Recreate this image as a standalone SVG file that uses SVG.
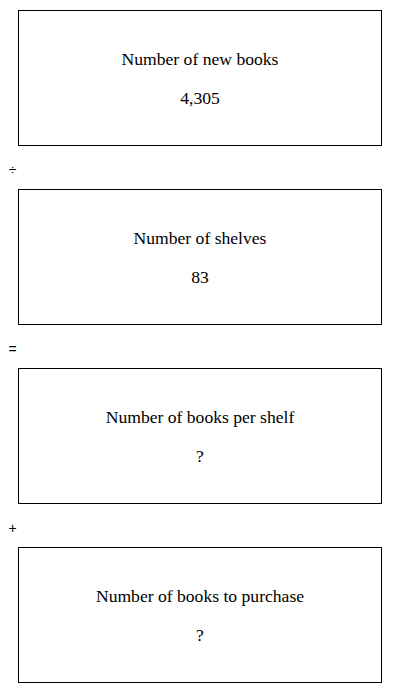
<svg xmlns="http://www.w3.org/2000/svg" width="400" height="693" viewBox="0 0 400 693">
<style>
.box{fill:#fff;stroke:#000;stroke-width:1}
.t{font-family:"Liberation Serif","Times New Roman",serif;font-size:17.6px;fill:#000;text-anchor:middle}
.op{font-family:"Liberation Sans","DejaVu Sans",sans-serif;font-size:14px;fill:#000;text-anchor:middle}
</style>
<rect width="400" height="693" fill="#fff"/>
<g id="node1">
<rect class="box" x="18.5" y="10.5" width="363" height="135"/>
<text class="t" x="200" y="65">Number of new books</text>
<text class="t" x="200" y="104">4,305</text>
</g>
<g id="node2">
<rect class="box" x="18.5" y="189.5" width="363" height="135"/>
<text class="t" x="200" y="244">Number of shelves</text>
<text class="t" x="200" y="283">83</text>
</g>
<g id="node3">
<rect class="box" x="18.5" y="368.5" width="363" height="135"/>
<text class="t" x="200" y="423">Number of books per shelf</text>
<text class="t" x="200" y="462">?</text>
</g>
<g id="node4">
<rect class="box" x="18.5" y="547.5" width="363" height="135"/>
<text class="t" x="200" y="602">Number of books to purchase</text>
<text class="t" x="200" y="641">?</text>
</g>
<g id="connectors">
<text class="op" x="12.5" y="175">÷</text>
<text class="op" x="12.5" y="354">=</text>
<text class="op" x="12.5" y="533">+</text>
</g>
</svg>
